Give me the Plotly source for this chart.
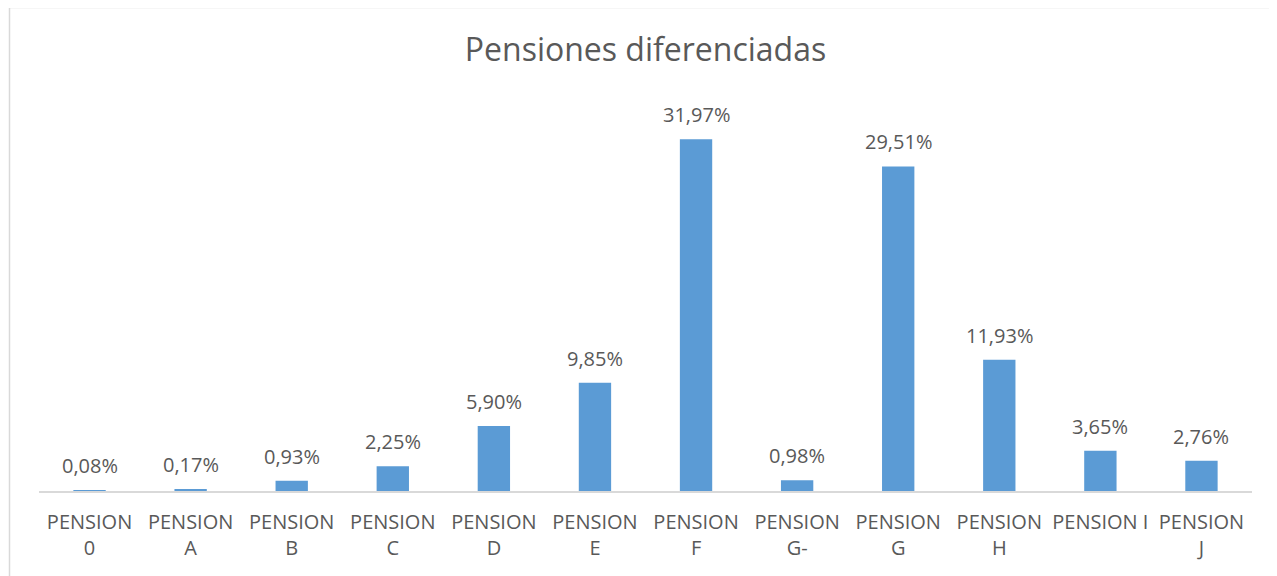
import plotly.graph_objects as go

categories = ["PENSION<br>0", "PENSION<br>A", "PENSION<br>B", "PENSION<br>C", "PENSION<br>D",
              "PENSION<br>E", "PENSION<br>F", "PENSION<br>G-", "PENSION<br>G", "PENSION<br>H",
              "PENSION I", "PENSION<br>J"]
values = [0.08, 0.17, 0.93, 2.25, 5.90, 9.85, 31.97, 0.98, 29.51, 11.93, 3.65, 2.76]

FONT = "Open Sans"
GREY = "#595959"

fig = go.Figure(go.Bar(
    x=categories, y=values,
    marker=dict(color="#5B9BD5", line=dict(width=0)),
    width=0.32,
))

for c, v in zip(categories, values):
    fig.add_annotation(x=c, y=v, xref="x", yref="y",
                       text=f"{v:.2f}%".replace(".", ","),
                       showarrow=False, yanchor="bottom", yshift=9,
                       font=dict(family=FONT, size=20, color=GREY))

# page has an 8px body margin; compensate
OFF = 8
W, H = 1277 - OFF, 576 - OFF
ml, mr, mt, mb = 39 - OFF, 25, 106 - OFF, 85
pw, ph = W - ml - mr, H - mt - mb

def px_x(x):
    return (x - OFF - ml) / pw

def px_y(y):
    return (H - mb - (y - OFF)) / ph

fig.add_shape(type="rect", xref="paper", yref="paper",
              x0=px_x(9.5), x1=px_x(1300), y0=px_y(7.5), y1=px_y(600),
              line=dict(color="#D9D9D9", width=1.5), fillcolor="rgba(0,0,0,0)", layer="below")

fig.update_layout(
    width=W, height=H,
    margin=dict(l=ml, r=mr, t=mt, b=mb),
    paper_bgcolor="white", plot_bgcolor="white",
    showlegend=False,
    title=dict(text="Pensiones diferenciadas", x=0.5, xanchor="center", xref="paper",
               y=1 - (50 - OFF) / H, yanchor="middle",
               font=dict(family=FONT, size=32, color=GREY)),
    xaxis=dict(showline=True, linecolor="#D9D9D9", linewidth=1.5, showgrid=False,
               ticks="", tickfont=dict(family=FONT, size=20, color=GREY),
               ticklabelstandoff=12, fixedrange=True),
    yaxis=dict(range=[0, 35], visible=False, showgrid=False, zeroline=False),
)

fig.write_html("out.html")
